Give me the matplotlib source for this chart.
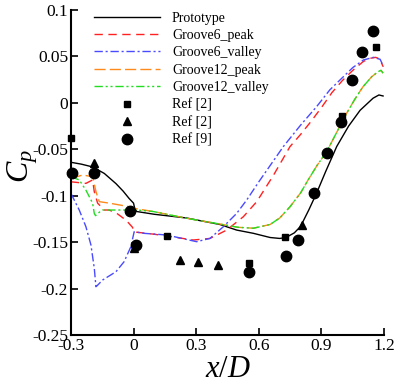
import matplotlib
matplotlib.use("Agg")
import matplotlib.pyplot as plt

plt.rcParams["font.family"] = ["Liberation Serif", "DejaVu Serif"]
plt.rcParams["mathtext.fontset"] = "custom"
plt.rcParams["mathtext.rm"] = "Liberation Serif"
plt.rcParams["mathtext.it"] = "Liberation Serif:italic"

# pressure coefficient along the body, x/D
proto_x = [-0.3, -0.25, -0.196, -0.14, -0.084, -0.05, -0.021, 0.0, 0.005, 0.015,
           0.1, 0.254, 0.414, 0.494, 0.574, 0.654, 0.70, 0.73, 0.77, 0.80,
           0.84, 0.877, 0.92, 0.973, 1.03, 1.085, 1.147, 1.175, 1.195]
proto_y = [-0.064, -0.066, -0.069, -0.076, -0.087, -0.095, -0.103, -0.108, -0.113, -0.117,
           -0.120, -0.124, -0.131, -0.137, -0.1405, -0.145, -0.146, -0.145, -0.140, -0.133,
           -0.115, -0.097, -0.074, -0.047, -0.025, -0.008, 0.005, 0.0085, 0.0074]

g6p_x = [-0.3, -0.228, -0.196, -0.188, -0.172, -0.14, -0.117, -0.08, -0.05, -0.025,
         -0.005, 0.003, 0.1, 0.159, 0.286, 0.366, 0.446, 0.526, 0.59, 0.67,
         0.749, 0.80, 0.85, 0.9, 0.95, 1.0, 1.05, 1.1, 1.133, 1.16, 1.18, 1.195]
g6p_y = [-0.085, -0.0867, -0.083, -0.0956, -0.108, -0.1154, -0.1154, -0.119, -0.124, -0.129,
         -0.134, -0.139, -0.1415, -0.1434, -0.1477, -0.146, -0.137, -0.1226, -0.1064, -0.078,
         -0.0472, -0.034, -0.020, -0.005, 0.011, 0.024, 0.035, 0.0445, 0.048, 0.049, 0.047, 0.039]

g6v_x = [-0.3, -0.26, -0.228, -0.204, -0.188, -0.18, -0.175, -0.148, -0.084, -0.045,
         -0.013, 0.003, 0.05, 0.159, 0.302, 0.366, 0.43, 0.494, 0.542, 0.6,
         0.717, 0.8, 0.877, 0.94, 1.005, 1.05, 1.101, 1.149, 1.181, 1.197]
g6v_y = [-0.0974, -0.1154, -0.1334, -0.153, -0.178, -0.198, -0.197, -0.1908, -0.1818, -0.171,
         -0.155, -0.1388, -0.1405, -0.1423, -0.1495, -0.146, -0.1334, -0.119, -0.1046, -0.085,
         -0.0472, -0.024, -0.004, 0.014, 0.0282, 0.038, 0.0462, 0.049, 0.0469, 0.039]

g12p_x = [-0.3, -0.244, -0.196, -0.18, -0.164, -0.116, -0.021, 0.0, 0.094, 0.254,
          0.414, 0.5, 0.574, 0.654, 0.70, 0.749, 0.80, 0.836, 0.88, 0.925,
          0.97, 1.021, 1.06, 1.099, 1.14, 1.171, 1.185, 1.195]
g12p_y = [-0.0815, -0.0777, -0.0795, -0.0956, -0.1064, -0.108, -0.1118, -0.1135, -0.117, -0.1243,
          -0.1305, -0.134, -0.135, -0.131, -0.124, -0.112, -0.097, -0.083, -0.067, -0.0526,
          -0.033, -0.011, 0.004, 0.0174, 0.028, 0.0336, 0.035, 0.032]

g12v_x = [-0.3, -0.26, -0.228, -0.196, -0.188, -0.182, -0.16, -0.148, -0.1, -0.036,
          0.0, 0.094, 0.254, 0.414, 0.5, 0.574, 0.654, 0.70, 0.749, 0.80,
          0.836, 0.88, 0.925, 0.97, 1.021, 1.06, 1.099, 1.14, 1.171, 1.185, 1.195]
g12v_y = [-0.0795, -0.083, -0.094, -0.108, -0.119, -0.1215, -0.117, -0.1154, -0.1154, -0.1154,
          -0.115, -0.117, -0.1243, -0.1305, -0.134, -0.135, -0.131, -0.124, -0.112, -0.097,
          -0.083, -0.067, -0.0526, -0.033, -0.011, 0.004, 0.0174, 0.028, 0.0336, 0.035, 0.032]

# reference measurements
ref2a_x = [-0.3, 0.158, 0.553, 0.725, 0.997, 1.162]
ref2a_y = [-0.038, -0.143, -0.172, -0.1445, -0.014, 0.0605]
ref2b_x = [-0.188, 0.0, 0.222, 0.311, 0.403, 0.805]
ref2b_y = [-0.065, -0.156, -0.169, -0.171, -0.1746, -0.132]
ref9_x = [-0.295, -0.19, -0.017, 0.012, 0.554, 0.729, 0.789, 0.864, 0.925, 0.992, 1.045, 1.096, 1.146]
ref9_y = [-0.0755, -0.0755, -0.1165, -0.153, -0.182, -0.1646, -0.148, -0.097, -0.0537, -0.0203, 0.0246, 0.0551, 0.0774]

fig = plt.figure(figsize=(3.96, 3.83), dpi=100)
ax = fig.add_axes([0.179, 0.1253, 0.791, 0.8486])

ax.plot(proto_x, proto_y, color="black", lw=1.0, label="Prototype")
ax.plot(g6p_x, g6p_y, color="#ff2020", lw=1.0, dashes=(6, 4), label="Groove6_peak")
ax.plot(g6v_x, g6v_y, color="#4a4aff", lw=1.0, dashes=(6, 2, 1.5, 2), label="Groove6_valley")
ax.plot(g12p_x, g12p_y, color="#ff8a1c", lw=1.0, dashes=(8, 3), label="Groove12_peak")
ax.plot(g12v_x, g12v_y, color="#22dd22", lw=1.0, dashes=(6, 2, 1.5, 2, 1.5, 2), label="Groove12_valley")

ax.plot(ref2a_x, ref2a_y, ls="none", marker="s", ms=5, color="black", clip_on=False, label="Ref [2]")
ax.plot(ref2b_x, ref2b_y, ls="none", marker="^", ms=6, color="black", clip_on=False, label="Ref [2]")
ax.plot(ref9_x, ref9_y, ls="none", marker="o", ms=7.5, color="black", clip_on=False, label="Ref [9]")

ax.set_xlim(-0.3, 1.2)
ax.set_ylim(-0.25, 0.1)
xt = [-0.3, 0, 0.3, 0.6, 0.9, 1.2]
yt = [0.1, 0.05, 0, -0.05, -0.1, -0.15, -0.2, -0.25]
ax.set_xticks(xt)
ax.set_xticklabels(["-0.3", "0", "0.3", "0.6", "0.9", "1.2"])
ax.set_yticks(yt)
ax.set_yticklabels(["0.1", "0.05", "0", "-0.05", "-0.1", "-0.15", "-0.2", "-0.25"])
ax.tick_params(direction="in", length=5, width=1.2, labelsize=12.5, pad=2)
for s in ("top", "right"):
    ax.spines[s].set_visible(False)
for s in ("left", "bottom"):
    ax.spines[s].set_linewidth(1.5)

ax.set_xlabel(r"$x/D$", fontsize=22)
ax.xaxis.set_label_coords(0.5, -0.06)
ax.set_ylabel(r"$C_p$", fontsize=23)
ax.yaxis.set_label_coords(-0.1, 0.52)

ax.legend(loc="upper left", bbox_to_anchor=(0.056, 1.012), frameon=False, fontsize=10,
          handlelength=4.75, labelspacing=0.31, handletextpad=0.86, borderaxespad=0)

fig.savefig("out.png", dpi=100)
